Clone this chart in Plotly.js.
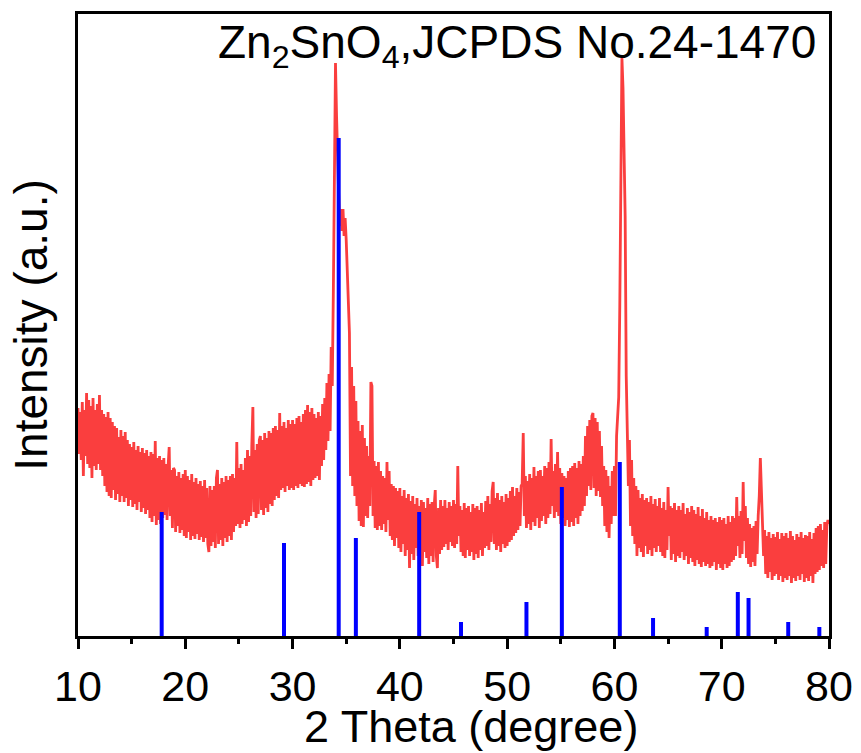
<!DOCTYPE html>
<html>
<head>
<meta charset="utf-8">
<script src="https://cdn.plot.ly/plotly-3.0.1.min.js"></script>
<style>html,body{margin:0;padding:0;background:#fff;}#chart{width:861px;height:753px;}</style>
</head>
<body>
<div id="chart"></div>
<script>
// Measured XRD pattern: 2θ from 10.0 to 80.0 in 0.1° steps (one row per degree), intensity in a.u.
const twoThetaStart = 10.0;
const twoThetaStep = 0.1;
const measuredIntensity = [
  228,182,224,176,234,160,226,180,243,172,
  236,168,230,158,238,170,226,166,232,172,
  241,166,226,160,222,150,219,144,224,140,
  218,138,214,146,210,136,208,142,199,134,
  206,140,200,134,204,138,196,130,192,136,
  189,129,194,132,186,126,190,134,184,124,
  188,128,183,122,186,126,180,118,184,114,
  182,120,195,111,178,116,180,112,176,118,
  178,121,172,116,170,189,120,166,108,168,
  166,104,160,110,164,103,158,106,162,100,
  166,98,160,104,156,96,162,100,154,97,
  158,102,152,96,155,99,150,94,156,98,
  148,92,84,150,90,146,94,150,88,158,
  166,92,152,96,158,90,154,98,160,94,
  156,100,160,96,162,104,158,110,194,112,
  168,108,172,112,166,116,178,110,186,114,
  180,120,190,229,124,186,118,192,122,196,
  200,126,196,121,203,128,198,124,205,132,
  203,130,208,136,210,140,206,138,223,146,
  210,148,214,144,208,150,216,146,212,148,
  216,146,212,150,218,148,220,152,214,150,
  222,149,226,152,231,154,224,150,228,156,
  222,158,218,160,224,156,220,170,232,176,
  238,186,253,195,262,205,289,250,344,508,
  573,520,470,440,410,427,405,427,400,418,
  396,370,341,303,160,269,150,250,140,235,
  130,215,115,205,110,211,109,198,120,190,
  118,180,130,254,250,120,175,108,170,106,
  174,110,165,106,160,112,158,104,174,116,
  165,100,152,96,150,90,148,98,145,88,
  148,84,140,92,146,80,138,86,142,68,
  135,82,140,76,132,88,138,80,130,74,
  136,70,134,84,128,78,138,72,132,80,
  134,74,130,146,80,68,128,82,136,86,
  130,89,136,92,128,86,134,94,130,90,
  136,88,132,92,170,100,130,84,126,80,
  133,78,128,86,130,80,124,84,132,76,
  128,82,130,78,126,86,133,80,124,88,
  135,90,140,86,132,94,145,154,92,138,
  86,143,90,136,84,140,92,134,88,142,
  90,138,94,145,96,149,100,140,103,148,
  106,144,110,150,152,203,120,160,108,155,
  112,162,106,158,114,169,110,160,118,165,
  108,166,115,160,120,170,112,168,118,174,
  122,197,130,165,118,172,124,184,120,168,
  112,163,118,160,110,158,116,165,109,168,
  114,170,110,173,118,168,112,175,120,172,
  125,180,130,200,140,210,150,216,146,220,
  223,148,218,140,214,145,205,139,190,130,
  170,110,166,104,160,98,150,112,165,120,
  170,120,200,219,239,330,520,578,548,500,
  420,260,215,150,196,110,176,100,158,92,
  150,80,146,88,138,84,142,79,136,90,
  138,82,134,86,140,80,132,88,137,84,
  130,90,138,84,128,80,134,78,126,86,
  149,100,130,76,128,82,133,74,126,80,
  130,78,126,84,133,76,122,80,128,72,
  124,78,130,74,126,70,122,76,129,72,
  120,69,127,74,118,70,124,72,116,68,
  120,70,116,74,118,66,114,72,119,68,
  116,66,118,72,112,68,120,70,114,74,
  120,76,118,80,139,90,120,78,125,82,
  154,95,130,78,118,72,112,69,108,74,
  110,70,115,82,120,140,178,150,110,80,
  106,62,100,58,104,64,98,56,102,60,
  99,62,104,56,97,60,103,54,100,58,
  103,56,98,60,105,53,100,58,96,55,
  102,60,99,56,104,62,98,54,101,58,
  100,55,104,60,97,53,103,62,108,64,
  110,66,112,70,106,68,114,72,110,116,
  112
];

// JCPDS No.24-1470 (Zn2SnO4) reference lines
const jcpdsPositions = [17.8, 29.2, 34.3, 35.9, 41.8, 45.7, 51.8, 55.1, 60.5, 63.6, 68.6, 71.5, 72.5, 76.2, 79.1];
const jcpdsHeights   = [124,  93,   498,  98,   124,  14,   34,   149,  174,  18,   9,    44,   38,   14,   9];

const xTickValues = [10, 20, 30, 40, 50, 60, 70, 80];
const xTickLabels = ['10', '20', '30', '40', '50', '60', '70', '80'];

const twoTheta = measuredIntensity.map((_, i) => +(twoThetaStart + i * twoThetaStep).toFixed(1));

const stickX = [], stickY = [];
jcpdsPositions.forEach((p, i) => { stickX.push(p, p, null); stickY.push(0, jcpdsHeights[i], null); });

const FONT = 'Liberation Sans, Arial, sans-serif';

const traces = [
  {
    type: 'scatter', mode: 'lines', x: twoTheta, y: measuredIntensity,
    line: {color: '#fa3e3e', width: 2.8}, hoverinfo: 'skip', showlegend: false
  },
  {
    type: 'scatter', mode: 'lines', x: stickX, y: stickY,
    line: {color: '#0000ff', width: 4}, hoverinfo: 'skip', showlegend: false
  }
];

const layout = {
  width: 861, height: 753,
  margin: {l: 78, r: 32, t: 14, b: 117, pad: 0},
  paper_bgcolor: '#ffffff', plot_bgcolor: '#ffffff',
  font: {family: FONT, color: '#000000'},
  showlegend: false,
  xaxis: {
    range: [10, 80], tickmode: 'array', tickvals: xTickValues, ticktext: xTickLabels,
    ticks: 'outside', ticklen: 10, tickwidth: 3, tickcolor: '#000',
    minor: {ticks: 'outside', ticklen: 5, tickwidth: 3, tickcolor: '#000', dtick: 5, tick0: 15, showgrid: false},
    showline: true, linewidth: 3, linecolor: '#000', mirror: true,
    showgrid: false, zeroline: false,
    tickfont: {family: FONT, size: 43, color: '#000'}
  },
  yaxis: {
    range: [0, 622], showticklabels: false, ticks: '',
    showline: true, linewidth: 3, linecolor: '#000', mirror: true,
    showgrid: false, zeroline: false,
    title: {text: 'Intensity (a.u.)', font: {family: FONT, size: 46, color: '#000'}, standoff: 13}
  },
  annotations: [
    {
      xref: 'paper', yref: 'paper', x: 0.986, y: 1.0, xanchor: 'right', yanchor: 'top',
      text: 'Zn<sub>2</sub>SnO<sub>4</sub>,JCPDS No.24-1470', showarrow: false,
      font: {family: FONT, size: 46, color: '#000'}
    },
    {
      xref: 'paper', yref: 'paper', x: 0.523, y: -0.101, xanchor: 'center', yanchor: 'top',
      text: '2 Theta (degree)', showarrow: false,
      font: {family: FONT, size: 45, color: '#000'}
    }
  ]
};

Plotly.newPlot('chart', traces, layout, {staticPlot: true, displayModeBar: false});
</script>
</body>
</html>
